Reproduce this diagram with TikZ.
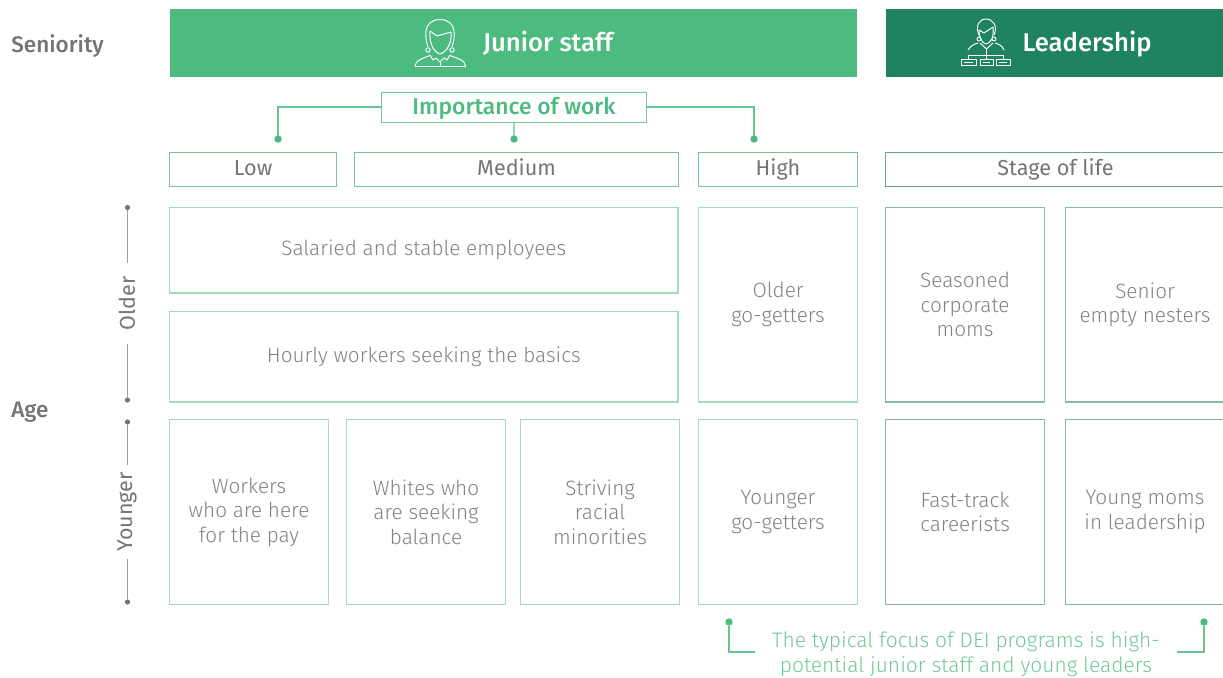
\documentclass[tikz,border=0pt]{standalone}
\usepackage{fontspec}
\setmainfont{Fira Sans Light}[BoldFont=Fira Sans Medium]
\newfontfamily\regfont{Fira Sans}
\usepackage{tikz}
\definecolor{juniorgreen}{HTML}{4DBB7F}
\definecolor{leadgreen}{HTML}{1F8360}
\definecolor{cellgreen}{HTML}{A3DDBC}
\definecolor{labelgray}{HTML}{828282}
\definecolor{sidegray}{HTML}{757575}
\tikzset{
  cell/.style={draw=cellgreen, line width=0.65pt, rectangle, inner sep=0pt, text=labelgray, align=center, font=\fontsize{11.8}{13.9}\selectfont, anchor=north west},
  juniorhead/.style={cell, draw=juniorgreen!80, text=sidegray, text height=9pt, text depth=2pt, font=\fontsize{12.3}{14}\regfont},
  leadhead/.style={juniorhead, draw=leadgreen!70},
  leadcell/.style={cell, draw=leadgreen!55},
  banner/.style={rectangle, inner sep=0pt, text=white, anchor=north west},
  bannertext/.style={text=white, inner sep=0pt, font=\fontsize{14.6}{16}\selectfont\bfseries},
  rowtitle/.style={text=sidegray, inner sep=0pt, anchor=west, font=\fontsize{12.8}{14}\selectfont\bfseries},
  agetext/.style={text=sidegray, inner sep=0pt, rotate=90, fill=white, minimum height=14pt, font=\fontsize{12.2}{14}\regfont},
  greenline/.style={draw=juniorgreen!85, line width=0.7pt},
  greydot/.style={circle, fill=sidegray, inner sep=0pt, minimum size=3pt},
  greendot/.style={circle, fill=juniorgreen, inner sep=0pt, minimum size=4.2pt},
  iconline/.style={draw=white, line width=0.55pt, line join=round}
}
\begin{document}
\begin{tikzpicture}[x=0.02cm, y=-0.02cm]
\useasboundingbox (0,0) rectangle (1223,677);
\clip (0,0) rectangle (1223,677);

% row titles
\node[rowtitle] (seniority) at (11,46) {Seniority};
\node[rowtitle] (age) at (11,412) {Age};

% banners
\node[banner, fill=juniorgreen, minimum width=13.74cm, minimum height=1.36cm] (junior) at (170,9) {};
\node[banner, fill=leadgreen, minimum width=7.2cm, minimum height=1.36cm] (leader) at (885.5,9) {};
\node[bannertext] (juniortext) at (548,43.5) {Junior staff};
\node[bannertext] (leadertext) at (1087,44) {Leadership};

% junior icon
\begin{scope}[iconline]
\draw (428,47) .. controls (425,38) and (422,20) .. (440,19.5) .. controls (458,20) and (455,38) .. (452,47);
\draw (430,31) -- (437,36) -- (451,32);
\draw (430,31) .. controls (429,42) and (433,52) .. (440,54) .. controls (447,52) and (452,43) .. (451,32);
\draw (428,50) circle (2.2) (452,50) circle (2.2);
\draw (415,66) .. controls (415,60) and (424,58) .. (430,55.5) (465.5,66) .. controls (465.5,60) and (456,58) .. (450,55.5);
\draw (415,66) -- (465.5,66);
\draw (430,55) -- (433,60) -- (436,58) -- (440,62) -- (444,58) -- (447,60) -- (450,55);
\draw (440,62) -- (440,66);
\end{scope}
% leader icon
\begin{scope}[iconline]
\draw (979,35) .. controls (975,26) and (979,19) .. (986,19) .. controls (993,19) and (998,26) .. (994,35);
\draw (979,30) -- (984,33) -- (993,27);
\draw (979,30) .. controls (979,38) and (982,43) .. (986,44) .. controls (991,43) and (994,38) .. (993,27);
\draw (979,39) circle (2) (994,39) circle (2);
\draw (968,50) .. controls (971,45) and (975,44) .. (978,43) (1004,50) .. controls (1002,45) and (998,44) .. (995,43);
\draw (980,43) -- (986.5,49) -- (993,43);
\draw (986.5,49) -- (986.5,59) (968.5,55) -- (1003,55) (968.5,55) -- (968.5,59) (1003,55) -- (1003,59);
\draw (961,59) rectangle (976,65.5) (980,59) rectangle (993,65.5) (996,59) rectangle (1010,65.5);
\draw (964,62.3) -- (973,62.3) (983,62.3) -- (990,62.3) (999,62.3) -- (1007,62.3);
\end{scope}

% importance of work
\node[cell, draw=juniorgreen!80, text=juniorgreen, minimum width=5.3cm, minimum height=0.6cm, text height=9.5pt, text depth=1.5pt, font=\fontsize{13}{15}\selectfont\bfseries] (importance) at (381,91.5) {Importance of work};
\coordinate (lowend) at (278,139);
\coordinate (midend) at (514,139);
\coordinate (highend) at (754,139);
\draw[greenline] (importance.west) -| (lowend);
\draw[greenline] (importance.south) -- (midend);
\draw[greenline] (importance.east) -| (highend);
\node[greendot] at (lowend) {};
\node[greendot] at (midend) {};
\node[greendot] at (highend) {};

% column heads
\node[juniorhead, minimum width=3.34cm, minimum height=0.68cm] (low) at (169,151.5) {Low};
\node[juniorhead, minimum width=6.48cm, minimum height=0.68cm] (medium) at (354,151.5) {Medium};
\node[juniorhead, minimum width=3.18cm, minimum height=0.68cm] (high) at (698,151.5) {High};
\node[leadhead, minimum width=6.8cm, minimum height=0.68cm] (stage) at (885,151.5) {Stage of life};

% junior cells
\node[cell, minimum width=10.17cm, minimum height=1.72cm] (salaried) at (169,206.5) {Salaried and stable employees};
\node[cell, minimum width=10.17cm, minimum height=1.82cm] (hourly) at (169,310.5) {Hourly workers seeking the basics};
\node[cell, minimum width=3.18cm, minimum height=3.9cm] (oldergo) at (698,206.5) {Older\\go-getters};
\node[cell, minimum width=3.18cm, minimum height=3.7cm] (workers) at (169,419) {Workers\\who are here\\for the pay};
\node[cell, minimum width=3.18cm, minimum height=3.7cm] (whites) at (346,419) {Whites who\\are seeking\\balance};
\node[cell, minimum width=3.18cm, minimum height=3.7cm] (striving) at (520,419) {Striving\\racial\\minorities};
\node[cell, minimum width=3.18cm, minimum height=3.7cm] (younggo) at (698,419) {Younger\\go-getters};

% leadership cells
\node[leadcell, minimum width=3.18cm, minimum height=3.9cm] (seasoned) at (885,206.5) {Seasoned\\corporate\\moms};
\node[leadcell, minimum width=3.18cm, minimum height=3.9cm] (senior) at (1065,206.5) {Senior\\empty nesters};
\node[leadcell, minimum width=3.18cm, minimum height=3.7cm] (fasttrack) at (885,419) {Fast-track\\careerists};
\node[leadcell, minimum width=3.18cm, minimum height=3.7cm] (youngmoms) at (1065,419) {Young moms\\in leadership};

% age axis
\node[greydot] (oldtop) at (127.5,207.5) {};
\node[greydot] (oldbot) at (127.5,400) {};
\node[greydot] (youngtop) at (127.5,422) {};
\node[greydot] (youngbot) at (127.5,602) {};
\draw[sidegray!70, line width=0.55pt] (oldtop) -- (oldbot);
\draw[sidegray!70, line width=0.55pt] (youngtop) -- (youngbot);
\node[agetext, minimum width=1.62cm] (older) at (127,303.5) {Older};
\node[agetext, minimum width=1.88cm] (younger) at (127,512) {Younger};

% focus note
\node[text=juniorgreen!80, inner sep=0pt, align=center, font=\fontsize{11.95}{14.2}\selectfont] (focus) at (966,654.5) {The typical focus of DEI programs is high-\\potential junior staff and young leaders};
\node[greendot] (focusleft) at (729,622) {};
\node[greendot] (focusright) at (1204,622) {};
\coordinate (leftend) at (755,652);
\coordinate (rightend) at (1177,652);
\draw[greenline] (focusleft) |- (leftend);
\draw[greenline] (focusright) |- (rightend);
\end{tikzpicture}
\end{document}
